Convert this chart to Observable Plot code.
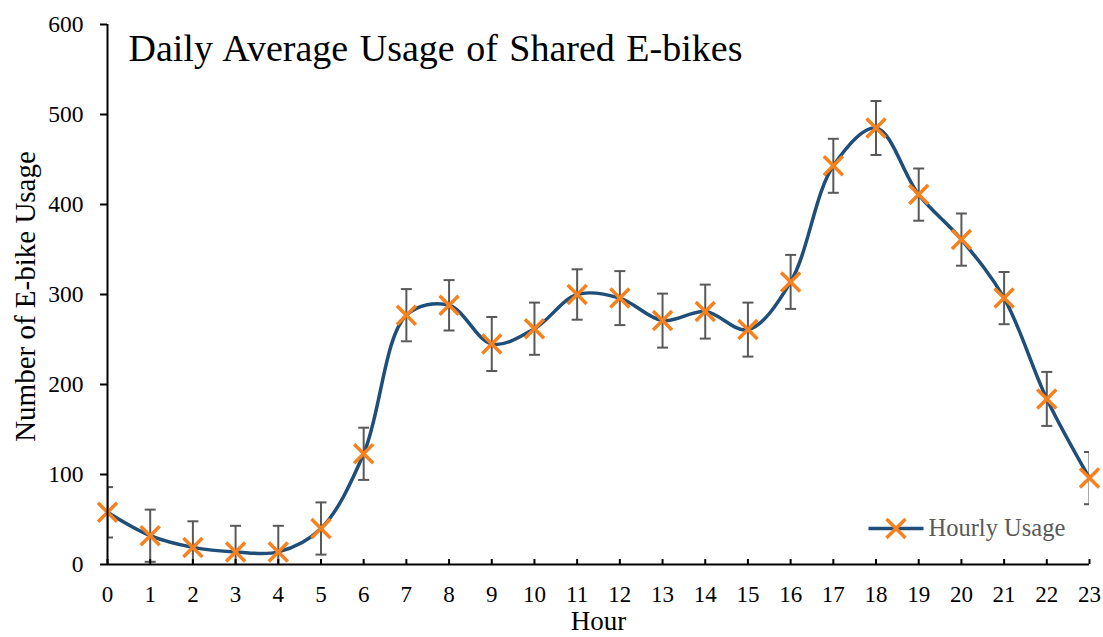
<!DOCTYPE html>
<html><head><meta charset="utf-8">
<script src="https://cdn.jsdelivr.net/npm/d3@7"></script>
<script src="https://cdn.jsdelivr.net/npm/@observablehq/plot@0.6"></script>
<style>body{margin:0;background:#fff} #chart{width:1103px;height:637px}</style>
</head><body><div id="chart"></div>
<script>
const hours = [0,1,2,3,4,5,6,7,8,9,10,11,12,13,14,15,16,17,18,19,20,21,22,23];
const usage = [58,32,19,14,14,40,123,277,288,245,262,300,296,271,281,261,314,443,485,411,361,296,184,96];
const errors = [28,29,29,29,29,29,29,29,28,30,29,28,30,30,30,30,30,30,30,29,29,29,30,29];
const yTicks = [0,100,200,300,400,500,600];
const title = "Daily Average Usage of Shared E-bikes";
const seriesName = "Hourly Usage";
const xLabel = "Hour";
const yLabel = "Number of E-bike Usage";

const data = hours.map((h, i) => ({hour: h, usage: usage[i], lo: usage[i] - errors[i], hi: usage[i] + errors[i]}));

const cap = {draw(ctx) { ctx.moveTo(-5.5, 0); ctx.lineTo(5.5, 0); }};
const legendLine = {draw(ctx) { ctx.moveTo(-27.5, 0); ctx.lineTo(27.5, 0); }};

const font = '"Liberation Serif", "Times New Roman", serif';
const blue = "#1f4e79", orange = "#f5821f", gray = "#595959";

const chart = Plot.plot({
  width: 1103, height: 637,
  marginLeft: 107, marginRight: 14, marginTop: 24, marginBottom: 73,
  style: {fontFamily: font, fontSize: "23px", color: "#000", background: "#fff"},
  x: {domain: [0, 23], label: null},
  y: {domain: [0, 600], label: null},
  marks: [
    Plot.line(data, {x: "hour", y: "usage", stroke: blue, strokeWidth: 3.5, curve: "catmull-rom"}),
    Plot.ruleX(data, {x: "hour", y1: "lo", y2: "hi", stroke: gray, strokeWidth: 2, clip: true}),
    Plot.dot(data, {x: "hour", y: "lo", symbol: cap, stroke: gray, strokeWidth: 2, clip: true}),
    Plot.dot(data, {x: "hour", y: "hi", symbol: cap, stroke: gray, strokeWidth: 2, clip: true}),
    Plot.dot(data, {x: "hour", y: "usage", symbol: "times", r: 8.7, stroke: orange, strokeWidth: 3.5}),
    Plot.ruleX([0], {stroke: "#000", strokeWidth: 2}),
    Plot.ruleY([0], {stroke: "#000", strokeWidth: 2}),
    Plot.axisY({ticks: yTicks, tickSize: 7, tickPadding: 17, strokeWidth: 2, tickFormat: d => String(d), fontSize: 23.5, label: null}),
    Plot.axisX({ticks: hours, tickSize: -5, tickPadding: 26, strokeWidth: 2, tickFormat: d => String(d), fontSize: 23, label: null}),
    Plot.text([title], {frameAnchor: "top-left", dx: 21, dy: 24, text: d => d, fontSize: 38, textAnchor: "start", lineAnchor: "middle", fill: "#000", className: "chart-title"}),
    Plot.text([yLabel], {frameAnchor: "left", dx: -82, dy: 2, text: d => d, rotate: -90, fontSize: 29, textAnchor: "middle", lineAnchor: "middle", fill: "#000"}),
    Plot.text([xLabel], {frameAnchor: "bottom", dy: 57, text: d => d, fontSize: 27, textAnchor: "middle", lineAnchor: "middle", fill: "#000"}),
    Plot.dot([seriesName], {frameAnchor: "bottom-left", dx: 788.5, dy: -36, symbol: legendLine, stroke: blue, strokeWidth: 3.5}),
    Plot.dot([seriesName], {frameAnchor: "bottom-left", dx: 788.5, dy: -36, symbol: "times", r: 8.7, stroke: orange, strokeWidth: 3.5}),
    Plot.text([seriesName], {frameAnchor: "bottom-left", dx: 821, dy: -36, text: d => d, fontSize: 24.5, textAnchor: "start", lineAnchor: "middle", fill: gray})
  ]
});
d3.select(chart).selectAll(".chart-title text").style("word-spacing", "2px");
document.getElementById("chart").appendChild(chart);
</script>
</body></html>
